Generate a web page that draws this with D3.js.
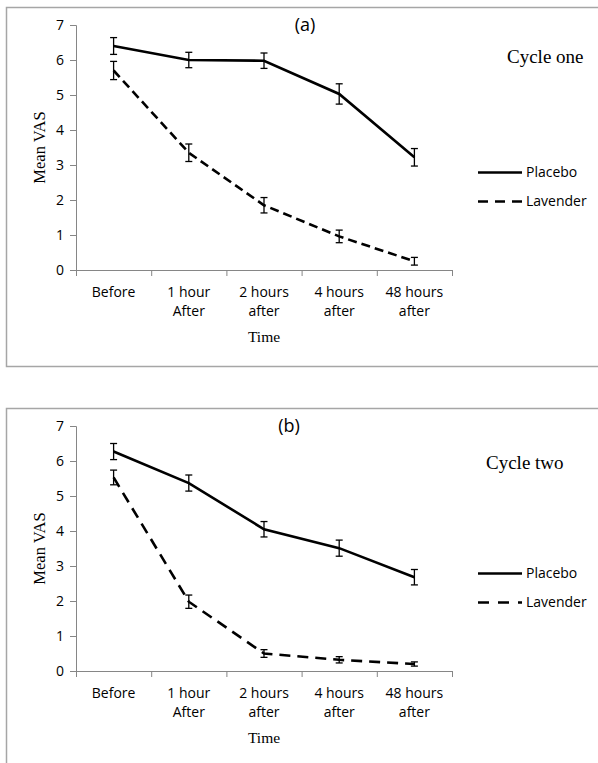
<!DOCTYPE html>
<html>
<head>
<meta charset="utf-8">
<script src="https://cdn.jsdelivr.net/npm/d3@7"></script>
<style>
  html, body { margin: 0; padding: 0; background: #fff; }
  svg { display: block; }
</style>
</head>
<body>
<svg id="chart" width="598" height="763"></svg>
<script>
// ---- data ----
const categories = ["Before", "1 hour\nAfter", "2 hours\nafter", "4 hours\nafter", "48 hours\nafter"];
const yTicks = [0, 1, 2, 3, 4, 5, 6, 7];
const seriesNames = ["Placebo", "Lavender"];

const placeboA = [6.40, 6.00, 5.98, 5.03, 3.22];
const placeboAErr = [0.24, 0.22, 0.22, 0.29, 0.25];
const lavenderA = [5.70, 3.35, 1.85, 0.96, 0.25];
const lavenderAErr = [0.26, 0.25, 0.22, 0.18, 0.11];

const placeboB = [6.27, 5.37, 4.05, 3.51, 2.68];
const placeboBErr = [0.23, 0.23, 0.22, 0.23, 0.22];
const lavenderB = [5.53, 1.98, 0.50, 0.32, 0.20];
const lavenderBErr = [0.21, 0.19, 0.11, 0.09, 0.06];

const panelLabels = ["(a)", "(b)"];
const cycleLabels = ["Cycle one", "Cycle two"];

// ---- layout ----
const svg = d3.select("#chart");
const W = 598;
const sans = "'Open Sans', 'DejaVu Sans', sans-serif";
const serif = "'Liberation Serif', 'Times New Roman', 'DejaVu Serif', serif";

const panels = [
  { top: 7, bottom: 366, placebo: placeboA, pErr: placeboAErr, lavender: lavenderA, lErr: lavenderAErr,
    label: panelLabels[0], labelX: 305, cycle: cycleLabels[0], cycleX: 507, cycleY: 63,
    dash: "9,5", legDash: "10,7" },
  { top: 408, bottom: 800, placebo: placeboB, pErr: placeboBErr, lavender: lavenderB, lErr: lavenderBErr,
    label: panelLabels[1], labelX: 289, cycle: cycleLabels[1], cycleX: 486, cycleY: 469,
    dash: "11,7", legDash: "11,9" }
];

const x = d3.scaleBand().domain(categories).range([76, 452]).paddingInner(0).paddingOuter(0);
const xc = d => x(d) + x.bandwidth() / 2;

panels.forEach(p => {
  const g = svg.append("g");
  // border
  g.append("rect")
    .attr("x", 6.5).attr("y", p.top + 0.5)
    .attr("width", W + 10).attr("height", p.bottom - p.top)
    .attr("fill", "none").attr("stroke", "#a6a6a6").attr("stroke-width", 1.5);

  const y = d3.scaleLinear().domain([0, 7]).range([p.top + 263, p.top + 18]);

  // y axis
  const yAxis = g.append("g").attr("transform", "translate(76,0)")
    .call(d3.axisLeft(y).tickValues(yTicks).tickSize(6).tickPadding(6).tickFormat(d3.format("d")));
  yAxis.select(".domain").attr("stroke", "#868686");
  yAxis.selectAll(".tick line").attr("stroke", "#868686");
  yAxis.selectAll(".tick text").attr("font-family", sans).attr("font-size", 14).attr("fill", "#000");

  // x axis
  const xAxis = g.append("g").attr("transform", `translate(0,${y(0)})`)
    .call(d3.axisBottom(x).tickSize(0).tickFormat(""));
  xAxis.select(".domain").attr("stroke", "#868686");
  xAxis.selectAll(".tick").remove();
  const bounds = categories.map(c => x(c)).concat([x.range()[1]]);
  xAxis.selectAll("line.bt").data(bounds).join("line")
    .attr("class", "bt")
    .attr("x1", d => d + 0.5).attr("x2", d => d + 0.5)
    .attr("y1", 0).attr("y2", 6).attr("stroke", "#868686");

  // x labels
  categories.forEach(c => {
    const lines = c.split("\n");
    const t = g.append("text")
      .attr("x", xc(c)).attr("y", y(0) + 27)
      .attr("text-anchor", "middle").attr("font-family", sans).attr("font-size", 14).attr("fill", "#000");
    lines.forEach((l, i) => {
      t.append("tspan").attr("x", xc(c)).attr("dy", i === 0 ? 0 : 19).text(l);
    });
  });

  // axis titles
  g.append("text").attr("x", 264).attr("y", y(0) + 72)
    .attr("text-anchor", "middle").attr("font-family", serif).attr("font-size", 15.5).text("Time");
  g.append("text")
    .attr("transform", `translate(45,${(y(0) + y(7)) / 2}) rotate(-90)`)
    .attr("text-anchor", "middle").attr("font-family", serif).attr("font-size", 16.5).text("Mean VAS");

  // panel label
  g.append("text").attr("x", p.labelX).attr("y", p.top + 24)
    .attr("text-anchor", "middle").attr("font-family", sans).attr("font-size", 18).text(p.label);
  g.append("text").attr("x", p.cycleX).attr("y", p.cycleY)
    .attr("font-family", serif).attr("font-size", 19).text(p.cycle);

  const line = d3.line().x((d, i) => xc(categories[i])).y(d => y(d));

  const series = [
    { vals: p.placebo, err: p.pErr, dash: null },
    { vals: p.lavender, err: p.lErr, dash: p.dash }
  ];

  series.forEach(s => {
    g.append("path").datum(s.vals)
      .attr("d", line).attr("fill", "none").attr("stroke", "#000")
      .attr("stroke-width", 2.6).attr("stroke-dasharray", s.dash);
    // error bars
    s.vals.forEach((v, i) => {
      const cx = xc(categories[i]);
      const e = s.err[i];
      g.append("line").attr("x1", cx).attr("x2", cx).attr("y1", y(v + e)).attr("y2", y(v - e))
        .attr("stroke", "#000").attr("stroke-width", 1.3);
      [v + e, v - e].forEach(yy => {
        g.append("line").attr("x1", cx - 3.5).attr("x2", cx + 3.5).attr("y1", y(yy)).attr("y2", y(yy))
          .attr("stroke", "#000").attr("stroke-width", 1.3);
      });
    });
  });

  // legend
  const legY = [p.top + 165.5, p.top + 194.5];
  seriesNames.forEach((n, i) => {
    g.append("line").attr("x1", 478).attr("x2", 522).attr("y1", legY[i]).attr("y2", legY[i])
      .attr("stroke", "#000").attr("stroke-width", 2.6)
      .attr("stroke-dasharray", i === 1 ? p.legDash : null);
    g.append("text").attr("x", 526).attr("y", legY[i]).attr("dy", "0.35em")
      .attr("font-family", sans).attr("font-size", 14).text(n);
  });
});
</script>
</body>
</html>
